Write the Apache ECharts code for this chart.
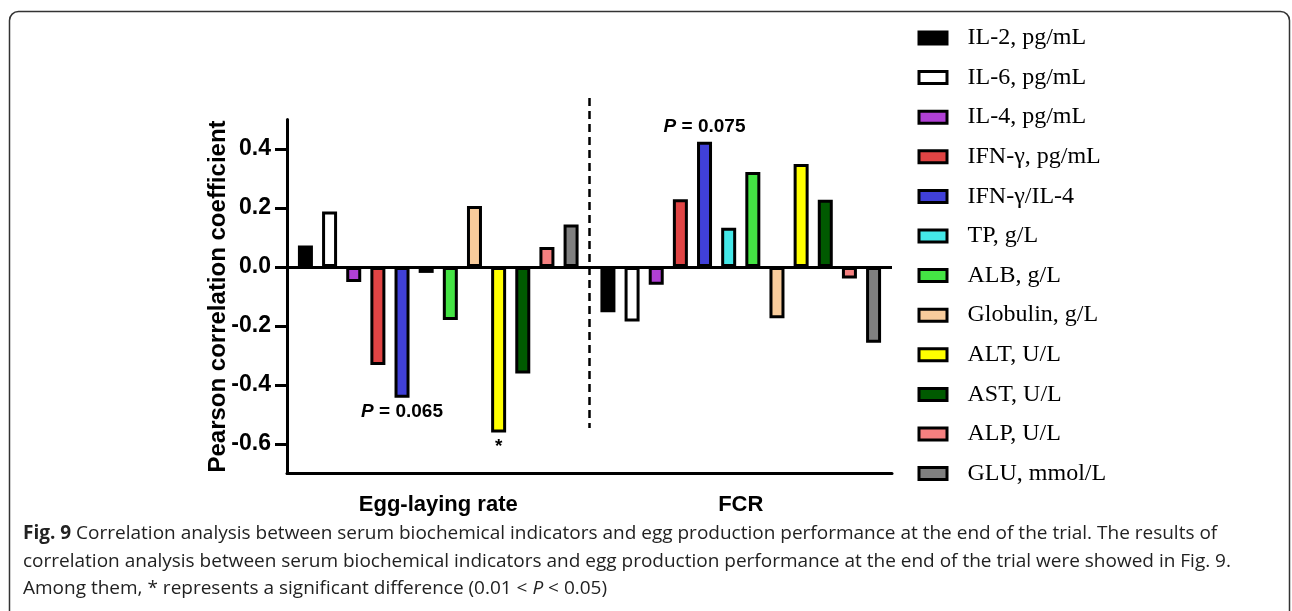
<!DOCTYPE html>
<html>
<head>
<meta charset="utf-8">
<script src="https://cdn.jsdelivr.net/npm/echarts@6/dist/echarts.min.js"></script>
<style>
  html, body { margin: 0; padding: 0; background: #fff; }
  #chart { width: 1292px; height: 611px; }
</style>
</head>
<body>
<div id="chart"></div>
<script>
// ---- data ----
const categories = ['Egg-laying rate', 'FCR'];
const seriesNames = ['IL-2, pg/mL', 'IL-6, pg/mL', 'IL-4, pg/mL', 'IFN-γ, pg/mL', 'IFN-γ/IL-4',
  'TP, g/L', 'ALB, g/L', 'Globulin, g/L', 'ALT, U/L', 'AST, U/L', 'ALP, U/L', 'GLU, mmol/L'];
const eggLayingRate = [0.073, 0.188, -0.051, -0.332, -0.443, -0.020, -0.180, 0.207, -0.561, -0.361, 0.068, 0.144];
const fcr = [-0.153, -0.185, -0.060, 0.230, 0.425, 0.133, 0.322, -0.174, 0.349, 0.228, -0.039, -0.257];
const seriesColors = ['#000000', '#ffffff', '#b040d4', '#e04444', '#4040d8', '#44e8e8',
  '#44e444', '#f8cc9c', '#ffff00', '#005a00', '#f58080', '#808080'];
const yTicks = [-0.6, -0.4, -0.2, 0.0, 0.2, 0.4];
const annotations = [
  { series: 'IFN-γ/IL-4', category: 0, text: '{i|P} = 0.065' },
  { series: 'ALT, U/L', category: 0, text: '*' },
  { series: 'IFN-γ/IL-4', category: 1, text: '{i|P} = 0.075' }
];
const dividerTop = 0.573, dividerBottom = -0.546;
const captionLines = [
  '{b|Fig. 9} Correlation analysis between serum biochemical indicators and egg production performance at the end of the trial. The results of',
  'correlation analysis between serum biochemical indicators and egg production performance at the end of the trial were showed in Fig. {l|9}.',
  'Among them, * represents a significant difference (0.01 < {i|P} < 0.05)'
];

// ---- chart ----
const chart = echarts.init(document.getElementById('chart'), null, { renderer: 'canvas' });
const annotLabelRich = {
  i: { fontStyle: 'italic', fontWeight: 'bold', fontFamily: 'Liberation Sans', fontSize: 19, color: '#000' }
};

const series = seriesNames.map((name, si) => {
  const vals = [eggLayingRate[si], fcr[si]];
  const data = vals.map((v, ci) => {
    const a = annotations.find(n => n.series === name && n.category === ci);
    if (!a) return v;
    return {
      value: v,
      label: {
        show: true, position: 'outside', distance: 5,
        formatter: a.text, color: '#000',
        fontFamily: 'Liberation Sans', fontWeight: 'bold', fontSize: 19,
        rich: annotLabelRich
      }
    };
  });
  const s = {
    name, type: 'bar', data,
    barWidth: 15, barGap: '61%',
    itemStyle: { color: seriesColors[si], borderColor: '#000', borderWidth: 3 },
    emphasis: { disabled: true },
    animation: false
  };
  if (si === 0) {
    s.markLine = {
      silent: true, symbol: 'none', animation: false,
      data: [{ yAxis: 0 }],
      lineStyle: { color: '#000', width: 3, type: 'solid' },
      label: { show: false }
    };
  }
  return s;
});

const capFont = 19;
const captionRich = {
  b: { fontFamily: 'Open Sans', fontWeight: 'bold', fontSize: capFont, color: '#222' },
  l: { fontFamily: 'Open Sans', fontSize: capFont, color: '#2a62c8' },
  i: { fontFamily: 'Open Sans', fontStyle: 'italic', fontSize: capFont, color: '#222' }
};
const captionY = [534, 562, 589];

const option = {
  animation: false,
  backgroundColor: '#fff',
  grid: { left: 287, right: 400, top: 119.5, bottom: 137.5, containLabel: false },
  legend: {
    orient: 'vertical', left: 917.5, top: 26, padding: 0,
    itemWidth: 28, itemHeight: 12, itemGap: 15.6,
    icon: 'rect',
    itemStyle: { borderWidth: 3, borderColor: '#000' },
    formatter: name => '{g|}' + name,
    textStyle: { fontFamily: 'Liberation Serif', fontSize: 24, color: '#000',
      rich: { g: { width: 15.5 } } },
    selectedMode: false,
    data: seriesNames
  },
  xAxis: {
    type: 'category', data: categories,
    axisLine: { onZero: false, lineStyle: { color: '#000', width: 3 } },
    axisTick: { alignWithLabel: true, length: 10, lineStyle: { color: '#000', width: 3 } },
    axisLabel: { color: '#000', fontFamily: 'Liberation Sans', fontWeight: 'bold', fontSize: 22, margin: 20 },
    splitLine: { show: false }
  },
  yAxis: {
    type: 'value', min: -0.7, max: 0.5,
    name: 'Pearson correlation coefficient', nameLocation: 'middle', nameGap: 57,
    nameMoveOverlap: false,
    nameTextStyle: { color: '#000', fontFamily: 'Liberation Sans', fontWeight: 'bold', fontSize: 24 },
    axisLine: { show: true, onZero: false, lineStyle: { color: '#000', width: 3 } },
    axisTick: { show: true, length: 12, customValues: yTicks, lineStyle: { color: '#000', width: 3 } },
    axisLabel: { customValues: yTicks, color: '#000', fontFamily: 'Liberation Sans', fontWeight: 'bold', fontSize: 23, margin: 16,
      formatter: v => v.toFixed(1) },
    splitLine: { show: false }
  },
  series
};
chart.setOption(option);

// decorations: category divider, frame and caption
const xA = chart.convertToPixel({ xAxisIndex: 0 }, categories[0]);
const xB = chart.convertToPixel({ xAxisIndex: 0 }, categories[1]);
const yTop = chart.convertToPixel({ yAxisIndex: 0 }, dividerTop);
const yBot = chart.convertToPixel({ yAxisIndex: 0 }, dividerBottom);
const xMid = (xA + xB) / 2;

const graphics = [
  {
    type: 'rect', silent: true,
    shape: { x: 9.5, y: 11.5, width: 1280, height: 700, r: 9 },
    style: { fill: 'none', stroke: '#333', lineWidth: 1.5 }
  },
  {
    type: 'line', silent: true,
    shape: { x1: xMid, y1: yTop, x2: xMid, y2: yBot },
    style: { stroke: '#000', lineWidth: 2.5, lineDash: [8, 5] }
  }
];
captionLines.forEach((t, k) => {
  graphics.push({
    type: 'text', silent: true, x: 23, y: captionY[k],
    style: { text: t, rich: captionRich, fontFamily: 'Open Sans', fontSize: capFont, fill: '#222',
      verticalAlign: 'middle', align: 'left' }
  });
});
chart.setOption({ graphic: graphics });
</script>
</body>
</html>
